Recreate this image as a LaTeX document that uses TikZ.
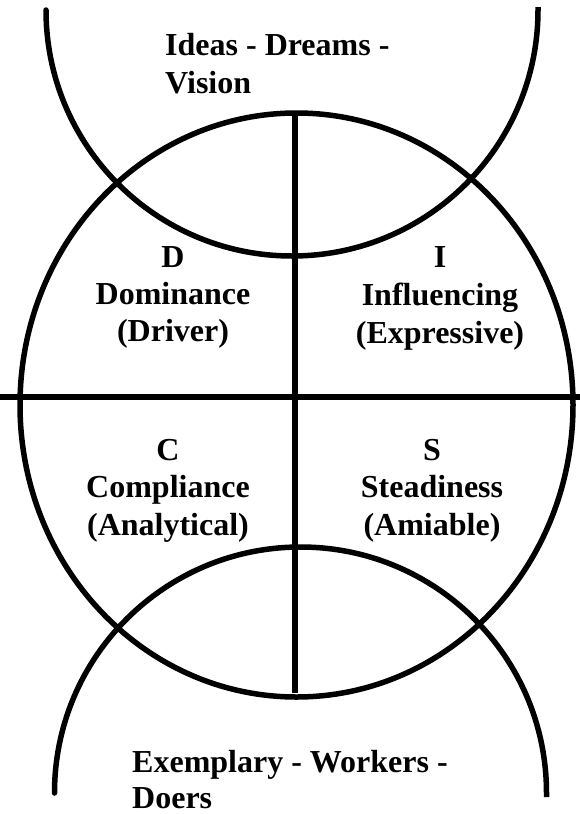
\documentclass[tikz,border=0pt]{standalone}
\usepackage{fontspec}
\setmainfont{Liberation Serif}
\begin{document}
\begin{tikzpicture}[x=1pt,y=-1pt,
  curve/.style={line width=5.5pt, draw=black},
  bar/.style={line width=6pt, draw=black},
  lbl/.style={font=\fontsize{32}{37.5}\selectfont\bfseries, inner sep=0pt, anchor=base},
  lbll/.style={lbl, anchor=base west}]
\useasboundingbox (0,0) rectangle (580,814);
% main circle
\draw[curve] (296.5,405) ellipse [x radius=276.5pt, y radius=292pt];
% top half circle
\draw[curve, line join=round] (46,13) -- (46,10) arc[start angle=180, end angle=360, radius=246pt] -- (538,7);
% bottom half circle
\draw[curve, line join=round] (54.5,790) -- (54.5,793) arc[start angle=180, end angle=0, radius=246pt] -- (546.5,797);
% axes
\coordinate (vt) at (295,113);
\coordinate (vb) at (295,693);
\coordinate (hl) at (0,397);
\coordinate (hr) at (580,397);
\draw[bar] (vt) -- (vb);
\draw[bar] (hl) -- (hr);
% top and bottom texts
\node[lbll] (top1) at (165,55) {Ideas - Dreams -};
\node[lbll] (top2) at (165,93) {Vision};
\node[lbll] (bot1) at (132,772) {Exemplary - Workers -};
\node[lbll, text depth=0pt] (bot2) at (132,808) {Doers};
% quadrants
\node[lbl] (d1) at (173,267) {D};
\node[lbl] (d2) at (173,304) {Dominance};
\node[lbl] (d3) at (173,341) {(Driver)};
\node[lbl] (i1) at (440,267) {I};
\node[lbl] (i2) at (440,305) {Influencing};
\node[lbl] (i3) at (440,343) {(Expressive)};
\node[lbl] (c1) at (168,460) {C};
\node[lbl] (c2) at (168,497) {Compliance};
\node[lbl] (c3) at (168,535) {(Analytical)};
\node[lbl] (s1) at (432,460) {S};
\node[lbl] (s2) at (432,497) {Steadiness};
\node[lbl] (s3) at (432,535) {(Amiable)};
\end{tikzpicture}
\end{document}
